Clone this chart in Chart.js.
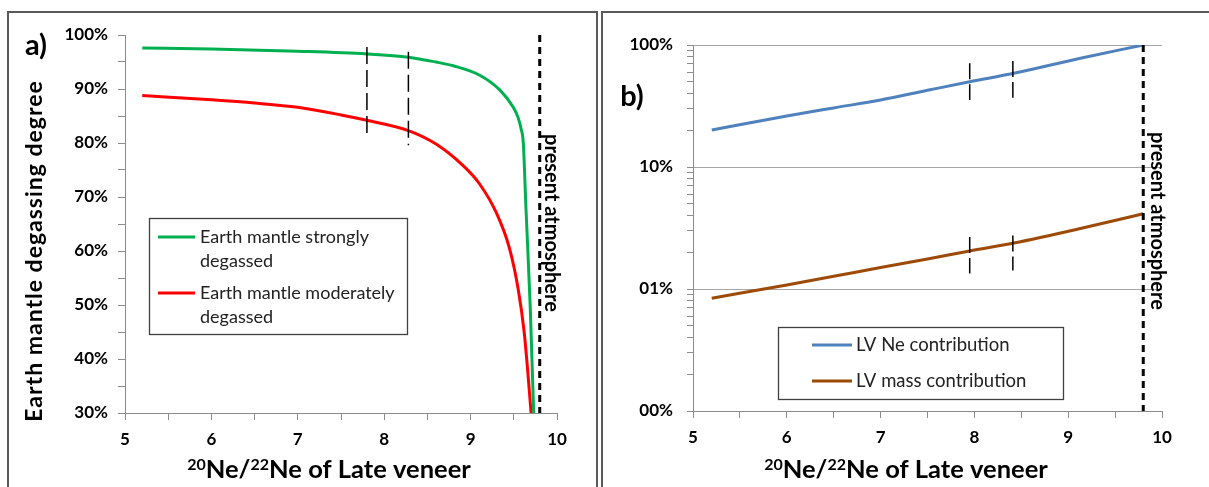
<!doctype html>
<html>
<head>
<meta charset="UTF-8">
<title>Late veneer neon</title>
<script src="https://cdn.jsdelivr.net/npm/chart.js@4.4.1/dist/chart.umd.min.js"></script>
<style>
  body { margin:0; background:#fff; width:1209px; height:487px; overflow:hidden; position:relative; }
  canvas { position:absolute; top:0; }
  .frame { position:absolute; border:2px solid #5a5a5a; top:11px; height:520px; pointer-events:none; }
</style>
</head>
<body>
<canvas id="chartA" width="600" height="487" style="left:0"></canvas>
<canvas id="chartB" width="609" height="487" style="left:600px"></canvas>
<div class="frame" style="left:7px;width:587px;"></div>
<div class="frame" style="left:601px;width:640px;"></div>
<script>
// panel a) - degassing degree vs 20Ne/22Ne of the late veneer
const ratioStrong = [5.2, 6.0, 7.0, 7.8, 8.28, 8.6, 8.8, 9.1, 9.34, 9.49, 9.55, 9.585, 9.61, 9.64, 9.69, 9.73];
const degassStrong = [97.6, 97.4, 97.0, 96.5, 95.9, 95.0, 94.3, 92.6, 89.8, 86.7, 84.7, 82.6, 80.0, 68.2, 49.7, 30];
const ratioModerate = [5.2, 6.0, 6.5, 7.0, 7.5, 7.8, 8.28, 8.6, 8.9, 9.1, 9.3, 9.45, 9.55, 9.62, 9.66, 9.70];
const degassModerate = [88.8, 88.0, 87.4, 86.6, 85.2, 84.2, 82.3, 79.8, 76.0, 72.5, 67.0, 60.5, 53, 45, 38, 30];
const markRatioA = [7.8, 8.28];
const markTopA = [97.8, 96.9];
const markBottomA = [81.3, 79.6];

// panel b) - late veneer contributions (fraction, log axis)
const ratioLV = [5.2, 6.0, 6.5, 7.0, 7.5, 7.95, 8.42, 9.13, 9.8];
const neContribution = [0.201, 0.262, 0.305, 0.354, 0.425, 0.50, 0.586, 0.778, 1.0];
const massContribution = [0.0084, 0.0108, 0.0127, 0.0150, 0.0176, 0.0205, 0.0238, 0.0313, 0.0414];
const markRatioB = [7.95, 8.41];
const neMarkTop = [0.708, 0.74], neMarkBottom = [0.354, 0.37];
const massMarkTop = [0.0267, 0.0275], massMarkBottom = [0.01337, 0.0142];

const presentRatio = 9.8;
const yDecades = [0.001, 0.01, 0.1, 1];
const yDecadeLabels = ['00%', '01%', '10%', '100%'];
const strongLabel = ['Earth mantle strongly', 'degassed'];
const moderateLabel = ['Earth mantle moderately', 'degassed'];
const neLabel = 'LV Ne contribution';
const massLabel = 'LV mass contribution';
const xTitleParts = [['20', true], ['Ne/', false], ['22', true], ['Ne of Late veneer', false]];
const yTitleA = 'Earth mantle degassing degree';
const presentLabel = 'present atmosphere';

const FONT = 'Lato';
const pts = (xs, ys) => xs.map((x, i) => ({x: x, y: ys[i]}));

function curve(data, color) {
  return { data: data, borderColor: color, borderWidth: 3, pointRadius: 0,
    cubicInterpolationMode: 'monotone', order: 2 };
}
function dashLine(x, y0, y1, width, dash) {
  return { data: [{x: x, y: y0}, {x: x, y: y1}], borderColor: '#000', borderWidth: width,
    borderDash: dash, pointRadius: 0, order: 0 };
}

function drawXTitle(ctx, cx, base) {
  const big = 'bold 25.5px ' + FONT, small = 'bold 16px ' + FONT;
  let total = 0;
  xTitleParts.forEach(p => { ctx.font = p[1] ? small : big; total += ctx.measureText(p[0]).width; });
  let x = cx - total / 2;
  ctx.textAlign = 'left';
  ctx.textBaseline = 'alphabetic';
  xTitleParts.forEach(p => {
    ctx.font = p[1] ? small : big;
    ctx.fillText(p[0], x, p[1] ? base - 8 : base);
    x += ctx.measureText(p[0]).width;
  });
}
function drawRotated(ctx, text, x, y, angle, font, spacing) {
  ctx.save();
  ctx.translate(x, y);
  ctx.rotate(angle);
  ctx.font = font;
  if (spacing) ctx.letterSpacing = spacing;
  ctx.textAlign = 'center';
  ctx.textBaseline = 'middle';
  ctx.fillText(text, 0, 0);
  ctx.restore();
}
function drawLegend(ctx, box, items, size) {
  ctx.save();
  ctx.strokeStyle = '#404040';
  ctx.lineWidth = 1.3;
  ctx.strokeRect(box.x + 0.5, box.y + 0.5, box.w, box.h);
  ctx.font = size + 'px ' + FONT;
  ctx.fillStyle = '#222';
  ctx.textAlign = 'left';
  ctx.textBaseline = 'middle';
  items.forEach(it => {
    ctx.strokeStyle = it.color;
    ctx.lineWidth = 3;
    ctx.beginPath();
    ctx.moveTo(box.lx0, it.y);
    ctx.lineTo(box.lx1, it.y);
    ctx.stroke();
    it.lines.forEach((t, i) => ctx.fillText(t, box.tx, it.y + i * 24));
  });
  ctx.restore();
}

function axisX(height) {
  return {
    type: 'linear', min: 5, max: 10,
    afterFit: s => { s.height = height; },
    border: { display: true, color: '#8c8c8c', width: 1 },
    grid: { drawOnChartArea: false, tickLength: 7, tickColor: '#8c8c8c' },
    ticks: { stepSize: 0.5, autoSkip: false, maxRotation: 0, padding: 9, color: '#000',
      font: { family: FONT, size: 17, weight: 'bold' },
      callback: v => Number.isInteger(v) ? String(v) : '' }
  };
}

const decorA = {
  id: 'decorA',
  afterDraw(chart) {
    const ctx = chart.ctx;
    ctx.save();
    ctx.fillStyle = '#000';
    drawRotated(ctx, 'a)', 36, 46, 0, 'bold 29px ' + FONT);
    drawRotated(ctx, yTitleA, 35, 251, -Math.PI / 2, 'bold 23px ' + FONT, '1px');
    drawXTitle(ctx, 329, 478);
    drawRotated(ctx, presentLabel, chart.scales.x.getPixelForValue(presentRatio) + 12, 223, Math.PI / 2, 'bold 20px ' + FONT);
    drawLegend(ctx, {x: 149, y: 218, w: 258, h: 116, lx0: 158, lx1: 195, tx: 200}, [
      {color: '#00b050', lines: strongLabel, y: 237},
      {color: '#ff0000', lines: moderateLabel, y: 293}
    ], 18);
    ctx.restore();
  }
};

new Chart(document.getElementById('chartA'), {
  type: 'line',
  data: { datasets: [
    dashLine(markRatioA[0], markTopA[0], markBottomA[0], 1.5, [17, 6]),
    dashLine(markRatioA[1], markTopA[1], markBottomA[1], 1.5, [17, 6]),
    dashLine(presentRatio, 100, 30, 3, [7, 5]),
    curve(pts(ratioStrong, degassStrong), '#00b050'),
    curve(pts(ratioModerate, degassModerate), '#ff0000')
  ] },
  options: {
    responsive: false, animation: false, devicePixelRatio: 1,
    layout: { padding: { left: 0, right: 43, top: 35, bottom: 0 } },
    plugins: { legend: { display: false }, tooltip: { enabled: false } },
    scales: {
      x: axisX(74),
      y: {
        type: 'linear', min: 30, max: 100,
        afterFit: s => { s.width = 125; },
        border: { display: true, color: '#8c8c8c', width: 1 },
        grid: { drawOnChartArea: false, tickLength: 7, tickColor: '#8c8c8c' },
        ticks: { stepSize: 5, autoSkip: false, padding: 10, color: '#000',
          font: { family: FONT, size: 17, weight: 'bold' },
          callback: v => v % 10 === 0 ? v + '%' : '' }
      }
    }
  },
  plugins: [decorA]
});

const decorB = {
  id: 'decorB',
  afterDraw(chart) {
    const ctx = chart.ctx;
    ctx.save();
    ctx.fillStyle = '#000';
    drawRotated(ctx, 'b)', 32, 97, 0, 'bold 29px ' + FONT);
    drawXTitle(ctx, 306, 478);
    drawRotated(ctx, presentLabel, chart.scales.x.getPixelForValue(presentRatio) + 14, 221, Math.PI / 2, 'bold 20px ' + FONT);
    drawLegend(ctx, {x: 178, y: 327, w: 285, h: 72, lx0: 212, lx1: 252, tx: 256}, [
      {color: '#4f81bd', lines: [neLabel], y: 345},
      {color: '#9c4a06', lines: [massLabel], y: 381}
    ], 18.5);
    ctx.restore();
  }
};

const logTicks = [];
yDecades.forEach((d, i) => {
  const kMax = i === yDecades.length - 1 ? 1 : 9;
  for (let k = 1; k <= kMax; k++) logTicks.push(k === 1 ? d : d * k);
});

new Chart(document.getElementById('chartB'), {
  type: 'line',
  data: { datasets: [
    dashLine(markRatioB[0], neMarkTop[0], neMarkBottom[0], 1.5, [16, 5]),
    dashLine(markRatioB[1], neMarkTop[1], neMarkBottom[1], 1.5, [16, 5]),
    dashLine(markRatioB[0], massMarkTop[0], massMarkBottom[0], 1.5, [16, 5]),
    dashLine(markRatioB[1], massMarkTop[1], massMarkBottom[1], 1.5, [16, 5]),
    dashLine(presentRatio, 1, 0.001, 3, [7, 5]),
    curve(pts(ratioLV, neContribution), '#4f81bd'),
    curve(pts(ratioLV, massContribution), '#9c4a06')
  ] },
  options: {
    responsive: false, animation: false, devicePixelRatio: 1,
    layout: { padding: { left: 0, right: 47, top: 45, bottom: 0 } },
    plugins: { legend: { display: false }, tooltip: { enabled: false } },
    scales: {
      x: axisX(76),
      y: {
        type: 'logarithmic', min: 0.001, max: 1,
        afterFit: s => { s.width = 93; },
        afterBuildTicks: s => { s.ticks = logTicks.map(v => ({ value: v })); },
        border: { display: true, color: '#8c8c8c', width: 1 },
        grid: { drawOnChartArea: true, tickLength: 6, tickColor: '#8c8c8c',
          color: c => (c.tick && yDecades.includes(c.tick.value)) ? '#a6a6a6' : 'rgba(0,0,0,0)' },
        ticks: { autoSkip: false, padding: 14, color: '#000',
          font: { family: FONT, size: 17, weight: 'bold' },
          callback: v => { const i = yDecades.indexOf(v); return i >= 0 ? yDecadeLabels[i] : ''; } }
      }
    }
  },
  plugins: [decorB]
});
</script>
</body>
</html>
